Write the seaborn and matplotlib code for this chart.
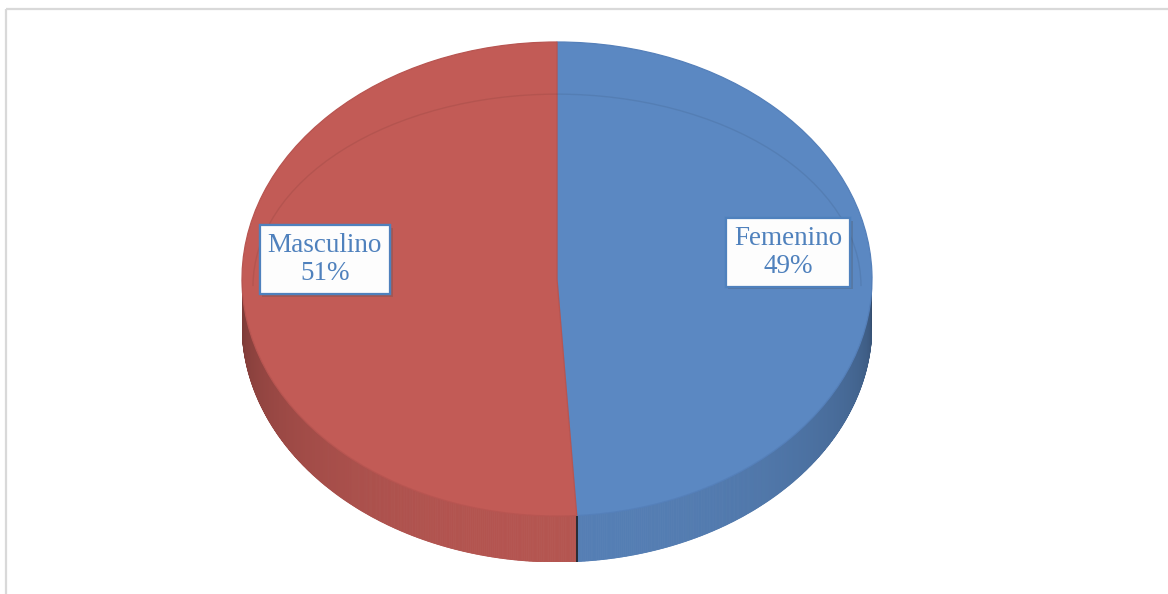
import numpy as np
import matplotlib
matplotlib.use("Agg")
import matplotlib.pyplot as plt
from matplotlib.collections import PolyCollection
from matplotlib.patches import Rectangle, Arc
import matplotlib.patheffects as pe
import seaborn as sns

# Data
labels = ["Femenino", "Masculino"]
values = [49, 51]

# Styling
top_colors = ["#5b88c2", "#c25b56"]
edge_colors = ["#5580ba", "#b85551"]
text_color = "#4f81bd"

sns.set_theme(style="white")
plt.rcParams["font.family"] = ["Liberation Serif", "DejaVu Serif"]

W, H = 1168, 594
fig = plt.figure(figsize=(W / 100, H / 100), dpi=100)
fig.patch.set_facecolor("white")

# background frame
bg = fig.add_axes([0, 0, 1, 1])
bg.set_xlim(0, W)
bg.set_ylim(H, 0)
bg.axis("off")
bg.add_patch(Rectangle((6, 9), W, H, fill=False, edgecolor="#d9d9d9", lw=1.6))

# pie geometry (pixels): centre x, top of ellipse, radii and extrusion depth
cx, top, rx, ry, depth = 557, 42, 315, 237, 46
d = depth / ry
ax = fig.add_axes([(cx - rx) / W, (H - (top + 2 * ry + depth)) / H,
                   2 * rx / W, (2 * ry + depth) / H])

fracs = np.asarray(values, dtype=float) / np.sum(values)
cum = np.concatenate([[0.0], np.cumsum(fracs)]) * 360.0
bound_angles = 90.0 - cum  # clockwise from 12 o'clock

# side wall: only the front half (angles -180..0) is visible
samples = np.linspace(-180.0, 0.0, 721)
extra = [((b + 180.0) % 360.0) - 180.0 for b in bound_angles]
extra = [a for a in extra if -180.0 < a < 0.0]
samples = np.unique(np.concatenate([samples, extra]))

polys, cols = [], []
for t0, t1 in zip(samples[:-1], samples[1:]):
    mid = 0.5 * (t0 + t1)
    off = (90.0 - mid) % 360.0
    idx = min(np.searchsorted(cum, off, side="right") - 1, len(values) - 1)
    r0, r1 = np.radians(t0), np.radians(t1)
    quad = [(np.cos(r0), np.sin(r0)), (np.cos(r1), np.sin(r1)),
            (np.cos(r1), np.sin(r1) - d), (np.cos(r0), np.sin(r0) - d)]
    s = -np.sin(np.radians(mid))
    f = 0.56 + 0.37 * s ** 0.6
    base = np.array(matplotlib.colors.to_rgb(top_colors[idx]))
    polys.append(quad)
    cols.append(tuple(np.clip(base * f, 0, 1)))

side = PolyCollection(polys, facecolors=cols, edgecolors=cols, linewidths=0.6)
ax.add_collection(side)

# seam on the side wall
for b in extra:
    r = np.radians(b)
    ax.plot([np.cos(r), np.cos(r)], [np.sin(r), np.sin(r) - d],
            color="#1f1f1f", lw=1.2, solid_capstyle="butt")

# top face
wedges, _ = ax.pie(values, colors=top_colors, startangle=90, counterclock=False,
                   radius=1, wedgeprops=dict(linewidth=0.9))
for w, ec in zip(wedges, edge_colors):
    w.set_edgecolor(ec)

# faint bevel highlight on the upper rim
ax.add_patch(Arc((0, -0.03), 2 * 0.965, 2 * 0.81, theta1=0, theta2=180,
                 color="black", alpha=0.07, lw=1.0))

ax.set_xlim(-1, 1)
ax.set_ylim(-1 - d, 1)
ax.set_aspect("auto")
ax.axis("off")

# data labels
label_pos = [(0.733, 0.112), (-0.737, 0.082)]
for name, v, (x, y) in zip(labels, values, label_pos):
    t = ax.text(x, y, f"{name}\n{v}%", ha="center", va="center", fontsize=19.5,
                color=text_color, linespacing=1.12,
                bbox=dict(boxstyle="square,pad=0.3", fc=(1, 1, 1, 0.9),
                          ec=text_color, lw=1.6))
    t.get_bbox_patch().set_path_effects(
        [pe.withSimplePatchShadow(offset=(2, -2), alpha=0.25), pe.Normal()])

fig.savefig("out.png", dpi=100)
